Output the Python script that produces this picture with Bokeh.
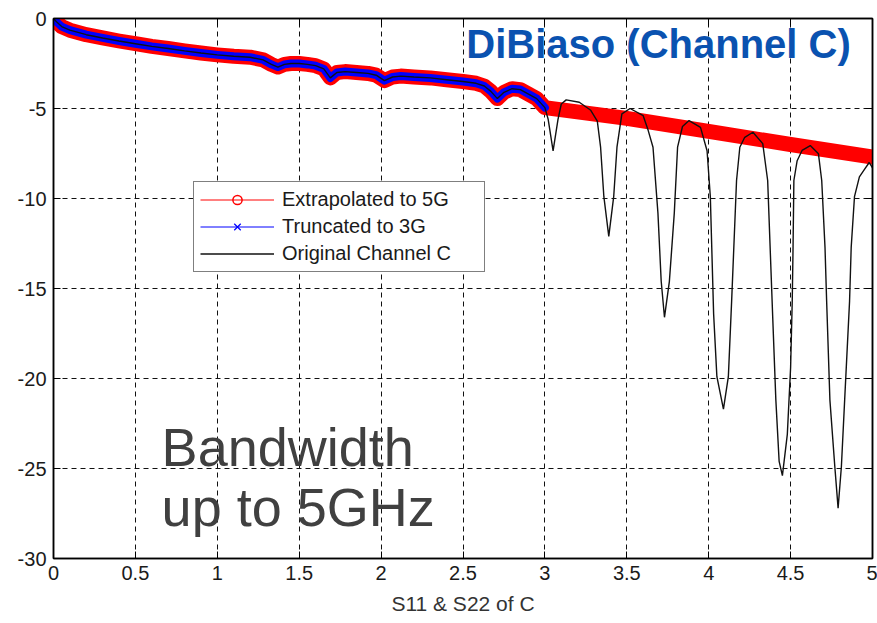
from bokeh.plotting import figure
from bokeh.models import (Range1d, FixedTicker, LinearAxis, Label, Legend,
                          LegendItem, CustomJSTickFormatter)
from bokeh.embed import file_html
from bokeh.resources import INLINE

# ---- data (GHz, dB) ----
# shared part 0..3 GHz (measured channel, also the truncated set)
freq_low = [0.00, 0.02, 0.05, 0.10, 0.20, 0.30, 0.40, 0.50, 0.60, 0.70, 0.80,
            0.90, 1.00, 1.10, 1.20, 1.28, 1.33, 1.37, 1.41, 1.45, 1.50, 1.55,
            1.60, 1.65, 1.69, 1.73, 1.78, 1.85, 1.92, 1.97, 2.02, 2.07, 2.12,
            2.20, 2.30, 2.40, 2.50, 2.58, 2.63, 2.67, 2.71, 2.75, 2.80, 2.85,
            2.90, 2.95, 3.00]
s_low = [0.0, -0.2, -0.45, -0.65, -0.9, -1.08, -1.25, -1.4, -1.55, -1.67, -1.8,
         -1.92, -2.02, -2.1, -2.15, -2.3, -2.55, -2.7, -2.55, -2.5, -2.5, -2.55,
         -2.62, -2.8, -3.3, -3.0, -2.95, -3.0, -3.05, -3.15, -3.45, -3.25, -3.2,
         -3.25, -3.3, -3.4, -3.5, -3.6, -3.75, -4.05, -4.45, -4.1, -3.9, -3.95,
         -4.2, -4.45, -4.95]

# original channel above 3 GHz
freq_high = [3.02, 3.05, 3.08, 3.10, 3.13, 3.21, 3.28, 3.32, 3.34, 3.36, 3.39,
             3.42, 3.44, 3.47, 3.52, 3.60, 3.63, 3.66, 3.69, 3.71, 3.73, 3.76,
             3.79, 3.81, 3.84, 3.88, 3.95, 3.99, 4.01, 4.03, 4.05, 4.09, 4.12,
             4.14, 4.17, 4.19, 4.22, 4.27, 4.33, 4.36, 4.39, 4.41, 4.43, 4.45,
             4.48, 4.50, 4.51, 4.515, 4.52, 4.54, 4.57, 4.62, 4.67, 4.69, 4.71,
             4.72, 4.74, 4.77, 4.79, 4.81, 4.83, 4.86, 4.87, 4.89, 4.92, 4.95,
             4.98, 5.00]
s_high = [-5.6, -7.35, -5.6, -4.75, -4.52, -4.65, -5.1, -5.7, -7.15, -9.9, -12.1,
          -9.9, -7.15, -5.3, -5.0, -5.4, -6.2, -7.15, -10.8, -14.6, -16.6, -14.6,
          -10.8, -7.15, -6.0, -5.67, -6.05, -7.35, -9.9, -16.4, -19.9, -21.7, -19.9,
          -15.7, -9.0, -7.15, -6.6, -6.32, -6.95, -9.0, -16.4, -21.2, -24.6, -25.4,
          -23.1, -19.4, -15.7, -12.7, -9.0, -7.9, -7.33, -7.06, -7.52, -9.0, -12.7,
          -15.7, -21.2, -24.9, -27.2, -24.9, -21.2, -15.7, -12.7, -9.9, -8.8, -8.4,
          -8.0, -8.3]

# extrapolated model above 3 GHz
freq_ext = [3.5, 4.0, 4.5, 5.0]
s_ext = [-5.55, -6.27, -7.0, -7.7]

x_ticks = [0, 0.5, 1, 1.5, 2, 2.5, 3, 3.5, 4, 4.5, 5]
y_ticks = [-30, -25, -20, -15, -10, -5, 0]

orig_x = freq_low + freq_high
orig_y = s_low + s_high
ext_x = freq_low + freq_ext
ext_y = s_low + s_ext

FONT = "Liberation Sans"

p = figure(width=877, height=623, x_range=Range1d(0, 5), y_range=Range1d(-30, 0),
           output_backend="svg", toolbar_location=None,
           min_border_left=53, min_border_right=5, min_border_top=18,
           min_border_bottom=65, background_fill_color="white",
           border_fill_color="white")
p.outline_line_color = "black"
p.outline_line_width = 1.5

fmt = CustomJSTickFormatter(code="return tick.toString()")
for ax, ticks in ((p.xaxis[0], x_ticks), (p.yaxis[0], y_ticks)):
    ax.ticker = FixedTicker(ticks=ticks)
    ax.formatter = fmt
    ax.major_tick_in = 7
    ax.major_tick_out = 0
    ax.minor_tick_line_color = None
    ax.axis_line_width = 1.5
    ax.axis_line_color = "black"
    ax.major_tick_line_color = "black"
    ax.major_label_text_font = FONT
    ax.major_label_text_font_size = "20px"
    ax.major_label_text_color = "#1a1a1a"
    ax.major_label_standoff = 7

p.xaxis.axis_label = "S11 & S22 of C"
p.xaxis.axis_label_text_font = FONT
p.xaxis.axis_label_text_font_size = "21px"
p.xaxis.axis_label_text_font_style = "normal"
p.xaxis.axis_label_text_color = "#333333"
p.xaxis.axis_label_standoff = 9

blank = CustomJSTickFormatter(code="return ''")
for place, ticks in (("above", x_ticks), ("right", y_ticks)):
    extra = LinearAxis(ticker=FixedTicker(ticks=ticks), formatter=blank,
                       major_tick_in=7, major_tick_out=0, minor_tick_line_color=None,
                       major_label_standoff=0, axis_line_width=1.5,
                       axis_line_color="black", major_tick_line_color="black")
    p.add_layout(extra, place)

for g in (p.xgrid[0], p.ygrid[0]):
    g.grid_line_color = "#111111"
    g.grid_line_dash = "5 4"
    g.grid_line_width = 1

# extrapolated: thick red band of circles
p.line(ext_x, ext_y, line_color="#ff0000", line_width=15, line_cap="round", line_join="round")
red_thin = p.line(ext_x, ext_y, line_color="#ff0000", line_width=1)
red_mark = p.scatter(ext_x, ext_y, marker="circle", size=11, line_color="#ff0000",
                     fill_color=None, line_width=1.5)

# truncated: blue band of x markers
p.line(freq_low, s_low, line_color="#0000ff", line_width=8, line_cap="round", line_join="round")
blue_thin = p.line(freq_low, s_low, line_color="#0000ff", line_width=1)
blue_mark = p.scatter(freq_low, s_low, marker="x", size=7, line_color="#0000ff", line_width=1.2)

# original channel
black_line = p.line(orig_x, orig_y, line_color="#111111", line_width=1.4)

legend = Legend(items=[
    LegendItem(label="Extrapolated to 5G", renderers=[red_thin, red_mark]),
    LegendItem(label="Truncated to 3G", renderers=[blue_thin, blue_mark]),
    LegendItem(label="Original Channel C", renderers=[black_line]),
], location=(140, 286), margin=0, padding=6, spacing=4, glyph_width=74,
    glyph_height=23, label_height=23, label_standoff=8, label_width=196,
    label_text_font=FONT, label_text_font_size="20px", label_text_color="#1a1a1a",
    border_line_color="black", border_line_width=1.2, background_fill_color="white",
    background_fill_alpha=1.0)
p.add_layout(legend)

p.add_layout(Label(x=2.52, y=-1.4, text="DiBiaso (Channel C)", text_font=FONT,
                   text_font_size="40px", text_font_style="bold", text_color="#0A52B0",
                   text_baseline="alphabetic", text_align="left"))
p.add_layout(Label(x=0.66, y=-23.8, text="Bandwidth", text_font=FONT,
                   text_font_size="54px", text_color="#404040",
                   text_baseline="alphabetic", text_align="left"))
p.add_layout(Label(x=0.66, y=-27.15, text="up to 5GHz", text_font=FONT,
                   text_font_size="54px", text_color="#404040",
                   text_baseline="alphabetic", text_align="left"))

open("out.html", "w").write(file_html(p, INLINE))
